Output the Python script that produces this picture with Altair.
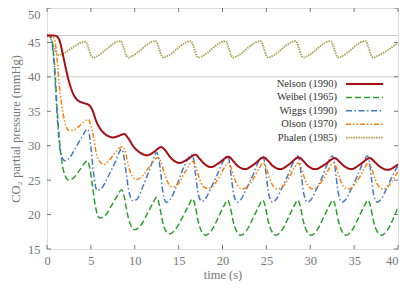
import altair as alt
import pandas as pd

# ---------------- data ----------------
series_names = ["Nelson (1990)", "Weibel (1965)", "Wiggs (1990)", "Olson (1970)", "Phalen (1985)"]

nelson_t = [0, 0.8, 1.2, 1.5, 1.8, 2.2, 2.6, 3.0, 3.5, 4.2, 4.8, 5.2, 5.6, 6.0, 6.5, 7.0, 7.5, 8.1, 8.8,
            9.3, 9.9, 10.6, 11.4, 12.2, 13.0, 13.5, 14.0, 14.5, 15.1, 16.0, 16.9, 17.4, 17.9, 18.7, 19.6,
            20.7, 21.2, 21.7, 22.6, 23.6, 24.7, 25.2, 25.7, 26.6, 27.6, 28.7, 29.2, 29.7, 30.6, 31.7,
            32.8, 33.3, 33.8, 34.7, 35.7, 36.8, 37.3, 37.8, 38.8, 40.0]
nelson_v = [46.0, 46.0, 45.8, 45.0, 43.3, 40.9, 38.9, 37.5, 36.6, 36.2, 35.9, 35.1, 33.6, 32.6, 31.8, 31.4, 31.2, 31.4, 31.7,
            31.0, 29.8, 29.0, 28.6, 29.1, 29.8, 29.3, 28.4, 27.8, 27.5, 28.0, 28.7, 28.1, 27.4, 26.9, 27.5,
            28.4, 27.8, 27.1, 26.6, 27.3, 28.3, 27.8, 27.1, 26.6, 27.3, 28.3, 27.8, 27.1, 26.6, 27.3,
            28.2, 27.7, 27.1, 26.6, 27.3, 28.2, 27.7, 27.1, 26.5, 27.3]

weibel_t = [0, 0.3, 0.55, 0.75, 0.95, 1.15, 1.4, 1.7, 2.05, 2.5, 3.0, 3.8, 4.6, 4.9, 5.2, 5.5, 6.0, 6.6, 7.4, 8.0, 8.5,
            8.8, 9.1, 9.5, 10.0, 10.6, 11.5, 12.0, 12.5, 12.8, 13.1, 13.5, 14.0, 14.6, 15.6, 16.1, 16.6,
            16.9, 17.2, 17.6, 18.1, 18.7, 19.6, 20.1, 20.6,
            20.9, 21.2, 21.6, 22.1, 22.7, 23.6, 24.1, 24.6,
            24.9, 25.2, 25.6, 26.1, 26.7, 27.6, 28.1, 28.6,
            28.9, 29.2, 29.6, 30.1, 30.7, 31.6, 32.1, 32.6,
            32.9, 33.2, 33.6, 34.1, 34.7, 35.6, 36.1, 36.6,
            36.9, 37.2, 37.6, 38.1, 38.7, 39.6, 40.0]
weibel_v = [46.0, 46.0, 45.3, 43.5, 40.0, 35.5, 31.0, 27.6, 25.7, 25.0, 25.3, 26.6, 27.8, 26.6, 24.0, 21.3, 19.5, 19.8, 21.4, 22.7, 23.6,
            22.6, 20.5, 18.6, 17.8, 18.3, 20.3, 21.5, 22.5, 21.4, 19.4, 17.7, 17.2, 17.8, 20.0, 21.2, 22.3,
            21.2, 19.2, 17.6, 17.0, 17.6, 19.8, 21.1, 22.1,
            21.0, 19.1, 17.6, 17.0, 17.6, 19.8, 21.1, 22.1,
            21.0, 19.1, 17.6, 17.0, 17.6, 19.8, 21.1, 22.1,
            21.0, 19.1, 17.6, 17.0, 17.6, 19.8, 21.1, 22.1,
            21.0, 19.1, 17.6, 17.0, 17.6, 19.8, 21.1, 22.1,
            21.0, 19.1, 17.6, 17.0, 17.6, 19.8, 21.1]

wiggs_t = [0, 0.3, 0.5, 0.7, 0.9, 1.1, 1.35, 1.65, 2.05, 2.6, 3.3, 4.0, 4.6, 4.8, 5.05, 5.3, 5.7, 6.2, 7.0, 7.8, 8.5,
           8.7, 9.0, 9.3, 9.8, 10.3, 11.0, 11.8, 12.5, 12.7, 13.0, 13.2, 13.6, 14.0, 14.8, 15.7, 16.5,
           16.7, 16.95, 17.25, 17.65, 18.0, 18.7, 19.4, 20.15, 20.55,
           20.75, 21.0, 21.3, 21.7, 22.05, 22.75, 23.45, 24.15, 24.55,
           24.75, 25.0, 25.3, 25.7, 26.05, 26.75, 27.45, 28.15, 28.55,
           28.75, 29.0, 29.3, 29.7, 30.05, 30.75, 31.45, 32.1, 32.5,
           32.7, 32.95, 33.25, 33.65, 34.0, 34.7, 35.4, 36.1, 36.5,
           36.7, 36.95, 37.25, 37.65, 38.0, 38.7, 39.4, 40.0]
wiggs_v = [46.0, 46.0, 45.4, 43.5, 40.0, 35.5, 31.0, 28.5, 27.8, 28.3, 29.8, 31.3, 32.4, 31.8, 29.2, 26.1, 23.5, 23.8, 25.6, 27.7, 29.5,
           28.9, 26.3, 23.6, 22.0, 22.3, 24.3, 26.9, 29.0, 28.4, 25.6, 23.3, 21.8, 22.1, 24.3, 27.2, 28.7,
           28.1, 25.6, 22.9, 21.9, 22.2, 23.9, 25.8, 27.9, 28.5,
           28.0, 25.5, 22.8, 21.8, 22.1, 23.8, 25.7, 27.8, 28.5,
           28.0, 25.5, 22.8, 21.8, 22.1, 23.8, 25.7, 27.8, 28.5,
           28.0, 25.5, 22.8, 21.8, 22.1, 23.8, 25.7, 27.8, 28.5,
           28.0, 25.5, 22.8, 21.8, 22.1, 23.8, 25.7, 27.8, 28.5,
           28.0, 25.5, 22.8, 21.8, 22.1, 23.8, 25.7, 27.1]

olson_t = [0, 0.5, 0.8, 1.0, 1.2, 1.4, 1.65, 2.0, 2.5, 3.1, 3.9, 4.7, 5.0, 5.3, 5.6, 6.0, 6.5, 7.1, 7.9, 8.6,
           8.9, 9.3, 9.7, 10.2, 10.8, 11.7, 12.65, 13.0, 13.4, 13.8, 14.3, 14.9, 15.8, 16.6,
           16.95, 17.4, 17.8, 18.3, 18.8, 19.6, 20.2, 20.6,
           20.95, 21.4, 21.8, 22.3, 22.8, 23.6, 24.2, 24.6,
           24.95, 25.4, 25.8, 26.3, 26.8, 27.6, 28.2, 28.6,
           28.95, 29.4, 29.8, 30.3, 30.8, 31.6, 32.2, 32.6,
           32.95, 33.4, 33.8, 34.3, 34.8, 35.6, 36.2, 36.6,
           36.95, 37.4, 37.8, 38.3, 38.8, 39.6, 40.0]
olson_v = [46.0, 46.0, 45.6, 44.5, 41.8, 38.8, 36.2, 33.6, 32.2, 32.3, 33.1, 33.8, 33.0, 31.3, 29.0, 27.7, 27.3, 27.9, 29.2, 29.9,
           29.3, 27.0, 25.6, 25.1, 25.5, 27.0, 28.3, 27.6, 25.9, 24.6, 24.0, 24.4, 26.3, 27.7,
           27.0, 25.1, 24.1, 23.8, 24.0, 25.4, 26.8, 27.5,
           26.9, 25.1, 24.1, 23.7, 24.0, 25.4, 26.8, 27.5,
           26.9, 25.1, 24.1, 23.7, 24.0, 25.4, 26.8, 27.5,
           26.9, 25.1, 24.1, 23.7, 24.0, 25.4, 26.8, 27.5,
           26.9, 25.1, 24.1, 23.7, 24.0, 25.4, 26.8, 27.5,
           26.9, 25.1, 24.1, 23.7, 24.0, 25.4, 26.2]

phalen_t = [0, 0.3, 0.8, 1.15, 1.4, 1.7,
            4.4, 4.75, 5.05, 5.3, 5.6,
            8.4, 8.75, 9.05, 9.3, 9.6,
            12.4, 12.75, 13.05, 13.3, 13.6,
            16.4, 16.75, 17.05, 17.3, 17.6,
            20.35, 20.7, 21.0, 21.25, 21.55,
            24.35, 24.7, 25.0, 25.25, 25.55,
            28.35, 28.7, 29.0, 29.25, 29.55,
            32.35, 32.7, 33.0, 33.25, 33.55,
            36.3, 36.65, 36.95, 37.2, 37.5, 40.0]
phalen_v = [46.0, 45.8, 44.3, 43.35, 43.15, 43.3,
            45.1, 44.1, 43.0, 42.8, 42.95,
            45.2, 44.2, 43.1, 42.8, 42.95,
            45.2, 44.2, 43.1, 42.8, 42.95,
            45.2, 44.2, 43.1, 42.8, 42.95,
            45.2, 44.2, 43.1, 42.8, 42.95,
            45.2, 44.2, 43.1, 42.8, 42.95,
            45.2, 44.2, 43.1, 42.8, 42.95,
            45.2, 44.2, 43.1, 42.8, 42.95,
            45.2, 44.2, 43.1, 42.8, 42.95, 44.95]

x_ticks = [0, 5, 10, 15, 20, 25, 30, 35, 40]
y_ticks = [15, 20, 25, 30, 35, 40, 45, 50]
ref_lines = [46, 40]

# ---------------- styles ----------------
W, H = 351, 241
FONT = "Liberation Serif"
FRAME = "#777777"
TXT = "#777777"
styles = {
    "Nelson (1990)": dict(color="#a50f15", dash=[1, 0], width=2.0),
    "Weibel (1965)": dict(color="#2ca02c", dash=[6, 3], width=1.5),
    "Wiggs (1990)": dict(color="#4479c4", dash=[6, 2.5, 1.5, 2.5], width=1.5),
    "Olson (1970)": dict(color="#ff7f0e", dash=[5, 2, 1.5, 2, 1.5, 2], width=1.5),
    "Phalen (1985)": dict(color="#a79f4a", dash=[1.5, 1], width=1.8),
}
series_data = {
    "Nelson (1990)": (nelson_t, nelson_v),
    "Weibel (1965)": (weibel_t, weibel_v),
    "Wiggs (1990)": (wiggs_t, wiggs_v),
    "Olson (1970)": (olson_t, olson_v),
    "Phalen (1985)": (phalen_t, phalen_v),
}

xs = alt.Scale(domain=[0, 40], nice=False, zero=False)
ys = alt.Scale(domain=[15, 50], nice=False, zero=False)

x_axis = alt.Axis(values=x_ticks, ticks=False, domain=False, grid=False, labelFont=FONT,
                  labelFontSize=12.5, labelColor=TXT, labelPadding=5, title="time (s)",
                  titleFont=FONT, titleFontSize=12.5, titleFontWeight="normal", titleColor=TXT,
                  titlePadding=2, labelFlush=False,
                  labelAlign={"expr": "datum.value == 40 ? 'right' : 'center'"})
y_axis = alt.Axis(values=y_ticks, ticks=False, domain=False, grid=False, labelFont=FONT,
                  labelFontSize=12.5, labelColor=TXT, labelPadding=7,
                  title="CO₂ partial pressure (mmHg)", titleFont=FONT, titleFontSize=12.5,
                  titleFontWeight="normal", titleColor=TXT, titlePadding=5, labelFlush=False,
                  labelBaseline={"expr": "datum.value == 50 ? 'top' : 'middle'"})


def X(field):
    return alt.X(field, scale=xs, axis=x_axis)


def Y(field):
    return alt.Y(field, scale=ys, axis=y_axis)


layers = []

# reference horizontal lines
ref_df = pd.DataFrame({"v": ref_lines})
layers.append(alt.Chart(ref_df).mark_rule(color="#c8c8c8", strokeWidth=1).encode(
    y=Y("v:Q"), x=alt.value(0), x2=alt.value(W)))

# inward ticks
xt = pd.DataFrame({"t": x_ticks})
yt = pd.DataFrame({"v": y_ticks})
for y0, y1 in [(H, H - 4), (0, 4)]:
    layers.append(alt.Chart(xt).mark_rule(color=FRAME, strokeWidth=1).encode(
        x=X("t:Q"), y=alt.value(y0), y2=alt.value(y1)))
for x0, x1 in [(0, 4), (W, W - 4)]:
    layers.append(alt.Chart(yt).mark_rule(color=FRAME, strokeWidth=1).encode(
        y=Y("v:Q"), x=alt.value(x0), x2=alt.value(x1)))

# data lines
for name in ["Phalen (1985)", "Weibel (1965)", "Wiggs (1990)", "Olson (1970)", "Nelson (1990)"]:
    t, v = series_data[name]
    st = styles[name]
    df = pd.DataFrame({"t": t, "v": v})
    layers.append(alt.Chart(df).mark_line(color=st["color"], strokeDash=st["dash"],
                                          strokeWidth=st["width"], interpolate="monotone",
                                          clip=True).encode(x=X("t:Q"), y=Y("v:Q")))

# manual legend (labels left, samples right)
for i, name in enumerate(series_names):
    st = styles[name]
    ly = 76 + 13.4 * i
    one = pd.DataFrame({"label": [name]})
    layers.append(alt.Chart(one).mark_text(align="right", baseline="middle", font=FONT,
                                           fontSize=10.5, color="#333333").encode(
        text="label:N", x=alt.value(290), y=alt.value(ly)))
    layers.append(alt.Chart(one).mark_rule(color=st["color"], strokeDash=st["dash"],
                                           strokeWidth=st["width"]).encode(
        x=alt.value(299), x2=alt.value(336), y=alt.value(ly)))

chart = alt.layer(*layers).properties(
    width=W, height=H,
    autosize=alt.AutoSizeParams(type="none"),
    padding={"left": 39, "top": 0, "right": 1, "bottom": 32},
).configure_view(stroke=FRAME, strokeWidth=1).configure(background="white")

chart.save("out.html", embed_options={"renderer": "svg", "actions": False})
